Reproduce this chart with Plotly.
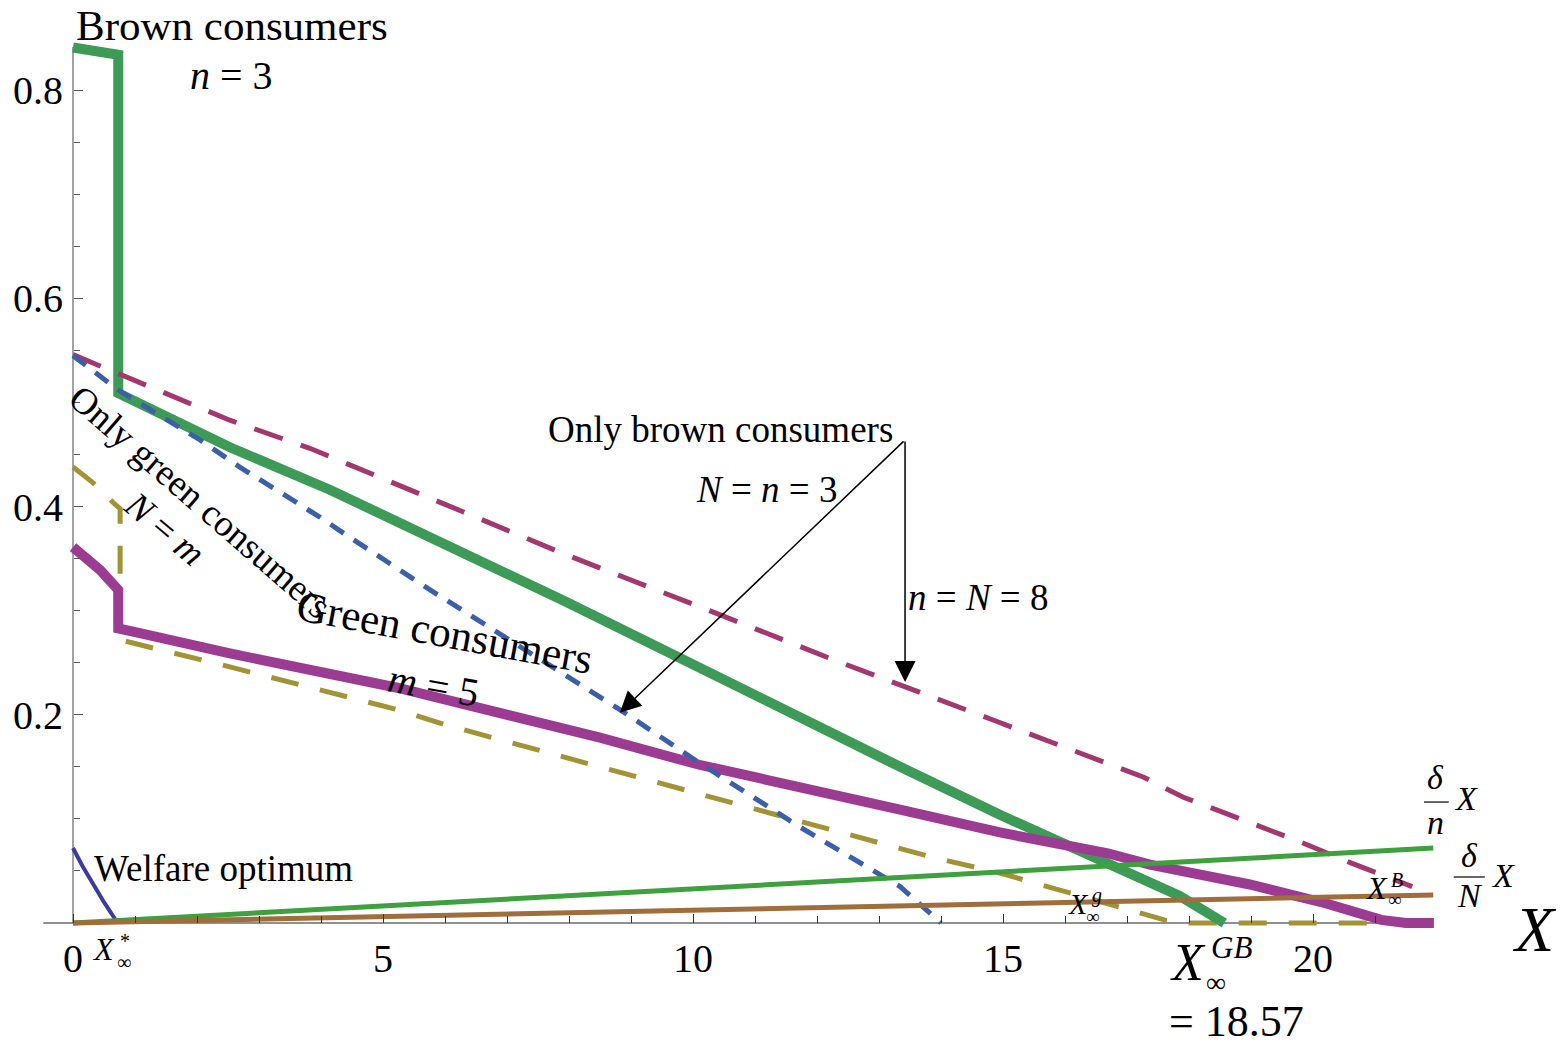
import plotly.graph_objects as go

# ---------------- data ----------------
brown_n3_x = [0, 0.4, 0.73, 0.73, 1.13, 2.53, 4.15, 5.23, 7.9, 9.03, 9.8, 11.19, 13.34, 14.95, 16.69, 17.85, 18.57]
brown_n3_y = [0.841, 0.838, 0.834, 0.509, 0.498, 0.457, 0.416, 0.386, 0.310, 0.277, 0.254, 0.212, 0.150, 0.104, 0.058, 0.026, 0.0]

green_m5_x = [0, 0.44, 0.73, 0.73, 0.97, 2.05, 2.53, 5.23, 7.9, 8.5, 10.1, 11.73, 13.34, 14.95, 16.69, 17.37, 18.42, 18.98, 20.2, 20.6, 21.1, 21.5, 21.95]
green_m5_y = [0.361, 0.339, 0.320, 0.283, 0.280, 0.265, 0.259, 0.226, 0.188, 0.178, 0.152, 0.131, 0.109, 0.087, 0.067, 0.056, 0.044, 0.037, 0.019, 0.012, 0.003, 0.0, 0.0]

only_brown_3_x = [0, 0.73, 2.05, 2.69, 3.98, 4.35, 5.76, 7.37, 8.82, 10.1, 11.73, 13.34, 14.0]
only_brown_3_y = [0.545, 0.512, 0.464, 0.438, 0.390, 0.375, 0.320, 0.259, 0.205, 0.154, 0.092, 0.035, 0.0]

only_brown_8_x = [0, 2.53, 3.82, 4.68, 6.29, 7.9, 8.94, 10.44, 12.26, 13.0, 13.87, 14.84, 17.27, 17.9, 18.87, 19.79, 20.6, 21.6]
only_brown_8_y = [0.546, 0.483, 0.456, 0.435, 0.395, 0.355, 0.331, 0.296, 0.253, 0.236, 0.216, 0.195, 0.140, 0.121, 0.099, 0.078, 0.058, 0.035]

only_green_x = [0, 0.32, 0.68, 0.76, 0.76, 2.53, 5.23, 6.03, 8.5, 10.65, 12.26, 13.87, 14.95, 15.53, 16.69, 17.6, 18.0, 21.9]
only_green_y = [0.438, 0.423, 0.402, 0.398, 0.272, 0.246, 0.205, 0.190, 0.150, 0.115, 0.089, 0.063, 0.048, 0.038, 0.019, 0.003, 0.0, 0.0]

delta_x = [0, 2, 4, 6, 8, 10, 12, 14, 16, 18, 20, 21.94]
delta_n_y = [0, 0.0066, 0.0131, 0.0197, 0.0262, 0.0328, 0.0394, 0.0459, 0.0525, 0.0590, 0.0656, 0.0720]
delta_N_y = [0, 0.0025, 0.0049, 0.0074, 0.0098, 0.0123, 0.0148, 0.0172, 0.0197, 0.0221, 0.0246, 0.0270]

welfare_x = [0, 0.15, 0.32, 0.5, 0.72]
welfare_y = [0.072, 0.055, 0.038, 0.020, 0.0]

x_ticks = [0, 5, 10, 15, 20]
y_ticks = [0.2, 0.4, 0.6, 0.8]
x_minor = [1, 2, 3, 4, 6, 7, 8, 9, 11, 12, 13, 14, 16, 17, 18, 19, 21]
y_minor = [0.05, 0.1, 0.15, 0.25, 0.3, 0.35, 0.45, 0.5, 0.55, 0.65, 0.7, 0.75]

X_MAX = 21.92
Y_MAX = 0.8415

# ---------------- figure ----------------
W, H = 1562, 1049
X0_PX, Y0_PX, XS, YS = 73, 923, 62.0, 1041.0
x_range = [-X0_PX / XS, (W - X0_PX) / XS]
y_range = [-(H - Y0_PX) / YS, Y0_PX / YS]

SERIF = "Liberation Serif, Times New Roman, serif"

fig = go.Figure()

def line(x, y, color, width, dash=None, name=""):
    fig.add_trace(go.Scatter(x=x, y=y, mode="lines", name=name,
                             line=dict(color=color, width=width, dash=dash),
                             hoverinfo="skip", showlegend=False))

line(only_green_x, only_green_y, "#a39337", 5, "28px,22px", "Only green consumers N=m")
line(brown_n3_x, brown_n3_y, "#3e9b57", 10, None, "Brown consumers n=3")
line(green_m5_x, green_m5_y, "#9b3b92", 10, None, "Green consumers m=5")
line(only_brown_8_x, only_brown_8_y, "#a3386f", 5, "30px,19px", "Only brown n=N=8")
line(only_brown_3_x, only_brown_3_y, "#3b5fa8", 5, "16px,12px", "Only brown N=n=3")
line(welfare_x, welfare_y, "#3c3c9e", 4, None, "Welfare optimum")
line(delta_x, delta_n_y, "#3ea03e", 5, None, "delta/n X")
line(delta_x, delta_N_y, "#a06d3c", 5, None, "delta/N X")

# axis lines
fig.add_shape(type="line", xref="x", yref="y", x0=-0.48, x1=X_MAX, y0=0, y1=0,
              line=dict(color="#222", width=1.2), layer="below")
fig.add_shape(type="line", xref="x", yref="y", x0=0, x1=0, y0=0, y1=Y_MAX,
              line=dict(color="#666", width=1.2), layer="below")

fig.update_layout(
    width=W, height=H,
    margin=dict(l=0, r=0, t=0, b=0),
    paper_bgcolor="white", plot_bgcolor="white",
    showlegend=False,
    xaxis=dict(range=x_range, anchor="free", position=(H - Y0_PX) / H,
               showgrid=False, zeroline=False, showline=False,
               tickmode="array", tickvals=x_ticks, ticktext=[str(v) for v in x_ticks],
               ticks="inside", ticklen=9, tickwidth=1, tickcolor="#333",
               minor=dict(tickmode="array", tickvals=x_minor, ticks="inside",
                          ticklen=7, tickwidth=1, tickcolor="#333"),
               tickfont=dict(family=SERIF, size=40, color="black"),
               ticklabelstandoff=8, fixedrange=True),
    yaxis=dict(range=y_range, anchor="free", position=X0_PX / W, side="left",
               showgrid=False, zeroline=False, showline=False,
               tickmode="array", tickvals=y_ticks, ticktext=[f"{v:.1f}" for v in y_ticks],
               ticks="inside", ticklen=9, tickwidth=1, tickcolor="#555",
               minor=dict(tickmode="array", tickvals=y_minor, ticks="inside",
                          ticklen=6, tickwidth=1, tickcolor="#555"),
               tickfont=dict(family=SERIF, size=40, color="black"),
               ticklabelstandoff=10, fixedrange=True),
)

def txt(x, y, text, size=37, angle=0, xanchor="center", yanchor="middle"):
    fig.add_annotation(x=x, y=y, xref="x", yref="y", text=text, showarrow=False,
                       textangle=angle, xanchor=xanchor, yanchor=yanchor,
                       font=dict(family=SERIF, size=size, color="black"))

txt(2.56, 0.8626, "Brown consumers", size=43)
txt(2.56, 0.8146, "<i>n</i> = 3", size=40)
txt(10.44, 0.4736, "Only brown consumers")
txt(11.19, 0.416, "<i>N</i> = <i>n</i> = 3")
txt(14.6, 0.313, "<i>n</i> = <i>N</i> = 8")
txt(2.05, 0.405, "Only green consumers", angle=41)
txt(1.48, 0.379, "<i>N</i> = <i>m</i>", angle=40)
txt(6.0, 0.2795, "Green consumers", size=43, angle=10.5)
txt(5.81, 0.2286, "<i>m</i> = 5", size=40, angle=10)
txt(2.435, 0.0528, "Welfare optimum")

# X_inf^*
txt(0.484, -0.025, "<i>X</i>", size=32)
txt(0.823, -0.0375, "∞", size=20)
txt(0.84, -0.0173, "*", size=20)
# X_inf^g
txt(16.21, 0.0183, "<i>X</i>", size=30)
txt(16.52, 0.026, "<i>g</i>", size=20)
txt(16.45, 0.0058, "∞", size=19)
# X_inf^B
txt(21.02, 0.0336, "<i>X</i>", size=32)
txt(21.36, 0.0413, "<i>B</i>", size=20)
txt(21.32, 0.0221, "∞", size=19)
# X_inf^GB = 18.57
txt(17.98, -0.0384, "<i>X</i>", size=52)
txt(18.68, -0.024, "<i>GB</i>", size=31)
txt(18.44, -0.0575, "∞", size=28)
txt(18.77, -0.1202, "= 18.57", size=44, yanchor="bottom")

# delta/n X
txt(21.98, 0.1393, "<i>δ</i>", size=34)
txt(21.97, 0.097, "<i>n</i>", size=34)
txt(22.47, 0.120, "<i>X</i>", size=34)
fig.add_shape(type="line", xref="x", yref="y", x0=21.79, x1=22.19, y0=0.1162, y1=0.1162,
              line=dict(color="black", width=1.2))
# delta/N X
txt(22.52, 0.0644, "<i>δ</i>", size=34)
txt(22.53, 0.026, "<i>N</i>", size=34)
txt(23.06, 0.0461, "<i>X</i>", size=34)
fig.add_shape(type="line", xref="x", yref="y", x0=22.27, x1=22.77, y0=0.0442, y1=0.0442,
              line=dict(color="black", width=1.2))

# axis label
txt(23.58, -0.0067, "<i>X</i>", size=64)

# arrows
for hx, hy in [(8.82, 0.202), (13.42, 0.2315)]:
    fig.add_annotation(x=hx, y=hy, xref="x", yref="y", ax=13.42, ay=0.464,
                       axref="x", ayref="y", text="", showarrow=True,
                       arrowhead=2, arrowsize=2.8, arrowwidth=1.5, arrowcolor="black")

fig.write_html("out.html", config={"displayModeBar": False},
               post_script="document.body.style.margin='0';document.body.style.overflow='hidden';")
